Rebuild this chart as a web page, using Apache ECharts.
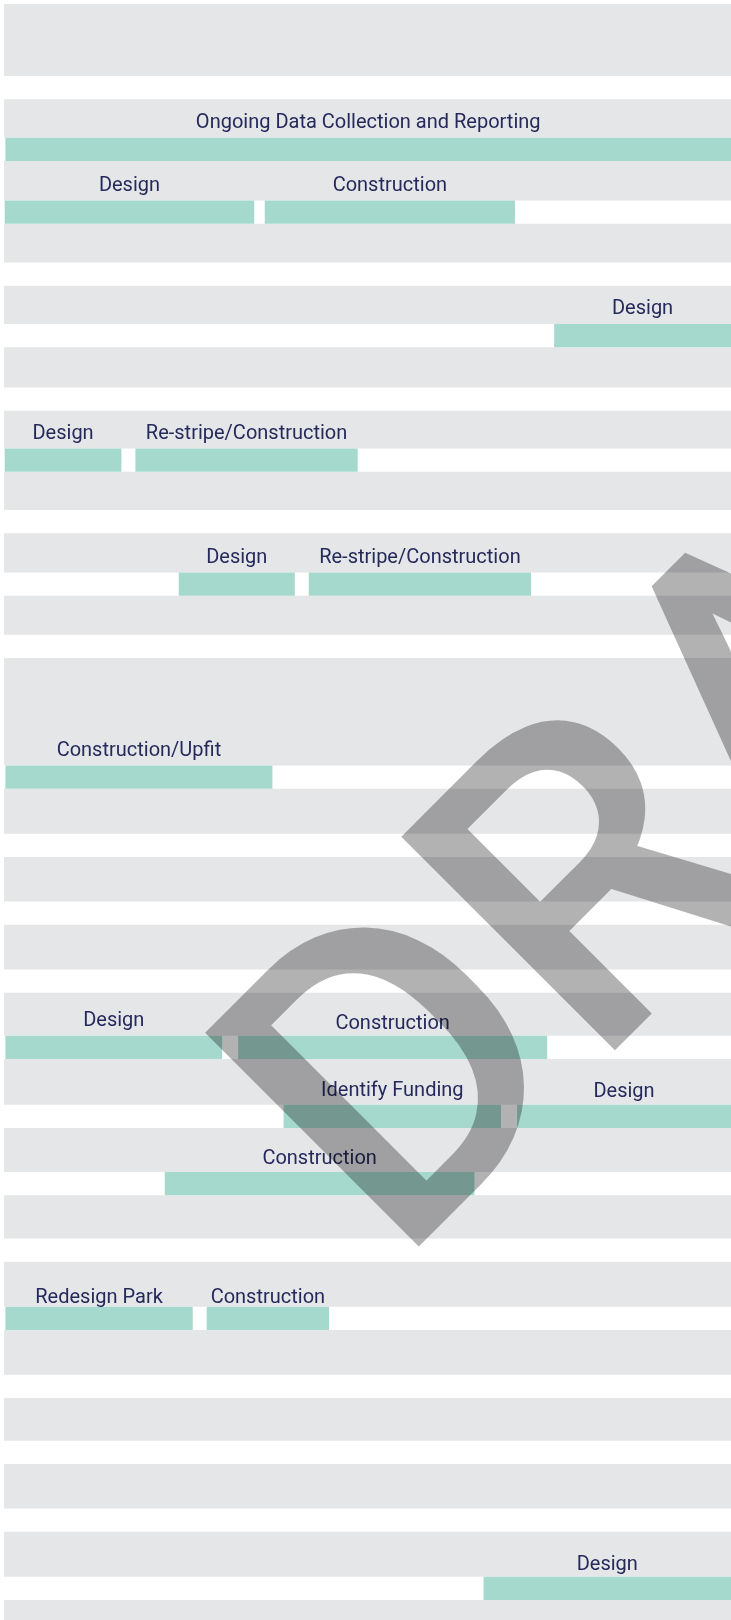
<!DOCTYPE html>
<html>
<head>
<meta charset="utf-8">
<script src="https://cdn.jsdelivr.net/npm/echarts@6/dist/echarts.min.js"></script>
<style>
  html, body { margin: 0; padding: 0; background: #fff; }
  #chart { width: 731px; height: 1620px; }
</style>
</head>
<body>
<div id="chart"></div>
<script>
// visible part of the timeline, in weeks
var weeksShown = 104;

// one entry per task bar
var taskRow = [1, 2, 2, 4, 6, 6, 8, 8, 10, 14, 14, 15, 15, 16, 18, 18, 22];
var taskName = [
  "Ongoing Data Collection and Reporting",
  "Design", "Construction",
  "Design",
  "Design", "Re-stripe/Construction",
  "Design", "Re-stripe/Construction",
  "Construction/Upfit",
  "Design", "Construction",
  "Identify Funding", "Design",
  "Construction",
  "Redesign Park", "Construction",
  "Design"
];
var taskStart = [0.2, 0.1, 37.3, 78.7, 0.1, 18.8, 25.0, 43.6, 0.2, 0.2, 33.5, 40.0, 73.4, 23.0, 0.2, 29.0, 68.6];
var taskEnd = [104, 35.8, 73.1, 104, 16.8, 50.6, 41.6, 75.4, 38.4, 31.2, 77.7, 71.1, 104, 67.3, 27.0, 46.5, 104];

// table layout: row label band heights, bar slot height, label gap above bar
var bandHeight = [72, 38.4, 39.4, 38.7, 38.3, 40.1, 37.7, 38.3, 39.1, 39, 107.4, 45,
  44.4, 44.7, 43, 45.7, 44, 43.1, 45, 44.7, 42.7, 44.4, 45, 45];
var slotHeight = 23.3;
var topOffset = 4;
var labelGap = [10.6, 10, 10, 10.7, 10.4, 10.4, 10.4, 10.4, 10.3, 10.3, 7.7, 10, 8.3, 8.7, 5, 4.5, 7.4];

var rowTop = [];
var acc = topOffset;
for (var i = 0; i < bandHeight.length; i++) {
  rowTop.push(acc);
  acc += bandHeight[i] + slotHeight;
}

var bandData = bandHeight.map(function (h, i) { return [0, weeksShown, i]; });
var barData = taskRow.map(function (r, i) { return [taskStart[i], taskEnd[i], r, i]; });

var chart = echarts.init(document.getElementById("chart"));

var option = {
  animation: false,
  backgroundColor: "#ffffff",
  grid: { left: 4, right: 0, top: 0, bottom: 0 },
  xAxis: {
    type: "value", min: 0, max: weeksShown, show: false
  },
  yAxis: {
    type: "value", min: 0, max: 1620, inverse: true, show: false
  },
  series: [
    {
      type: "custom",
      silent: true,
      encode: { x: [0, 1] },
      data: bandData,
      renderItem: function (params, api) {
        var r = api.value(2);
        var p0 = api.coord([api.value(0), rowTop[r]]);
        var p1 = api.coord([api.value(1), rowTop[r] + bandHeight[r]]);
        return {
          type: "rect",
          shape: { x: p0[0], y: p0[1], width: p1[0] - p0[0], height: p1[1] - p0[1] },
          style: { fill: "#e5e6e8" }
        };
      }
    },
    {
      type: "custom",
      silent: true,
      encode: { x: [0, 1] },
      data: barData,
      renderItem: function (params, api) {
        var s = api.value(0), e = api.value(1), r = api.value(2), k = api.value(3);
        var y0 = rowTop[r] + bandHeight[r];
        var p0 = api.coord([s, y0]);
        var p1 = api.coord([e, y0 + slotHeight]);
        var mid = api.coord([(s + Math.min(e, weeksShown)) / 2, y0]);
        return {
          type: "group",
          children: [
            {
              type: "rect",
              shape: { x: p0[0], y: p0[1], width: p1[0] - p0[0], height: p1[1] - p0[1] },
              style: { fill: "#a6d9ce" }
            },
            {
              type: "text",
              style: {
                x: mid[0], y: mid[1] - labelGap[k] - 4,
                text: taskName[k],
                fill: "#252a5b",
                font: "20px Roboto",
                align: "center",
                verticalAlign: "middle"
              }
            }
          ]
        };
      }
    }
  ],
  graphic: [
    {
      type: "text",
      z: 100,
      silent: true,
      x: 322, y: 1193,
      rotation: Math.PI / 4,
      style: {
        text: "DRAFT",
        font: "500 425px Roboto",
        fill: "rgba(0,0,0,0.3)",
        align: "left",
        verticalAlign: "middle"
      }
    }
  ]
};

chart.setOption(option);
</script>
</body>
</html>
